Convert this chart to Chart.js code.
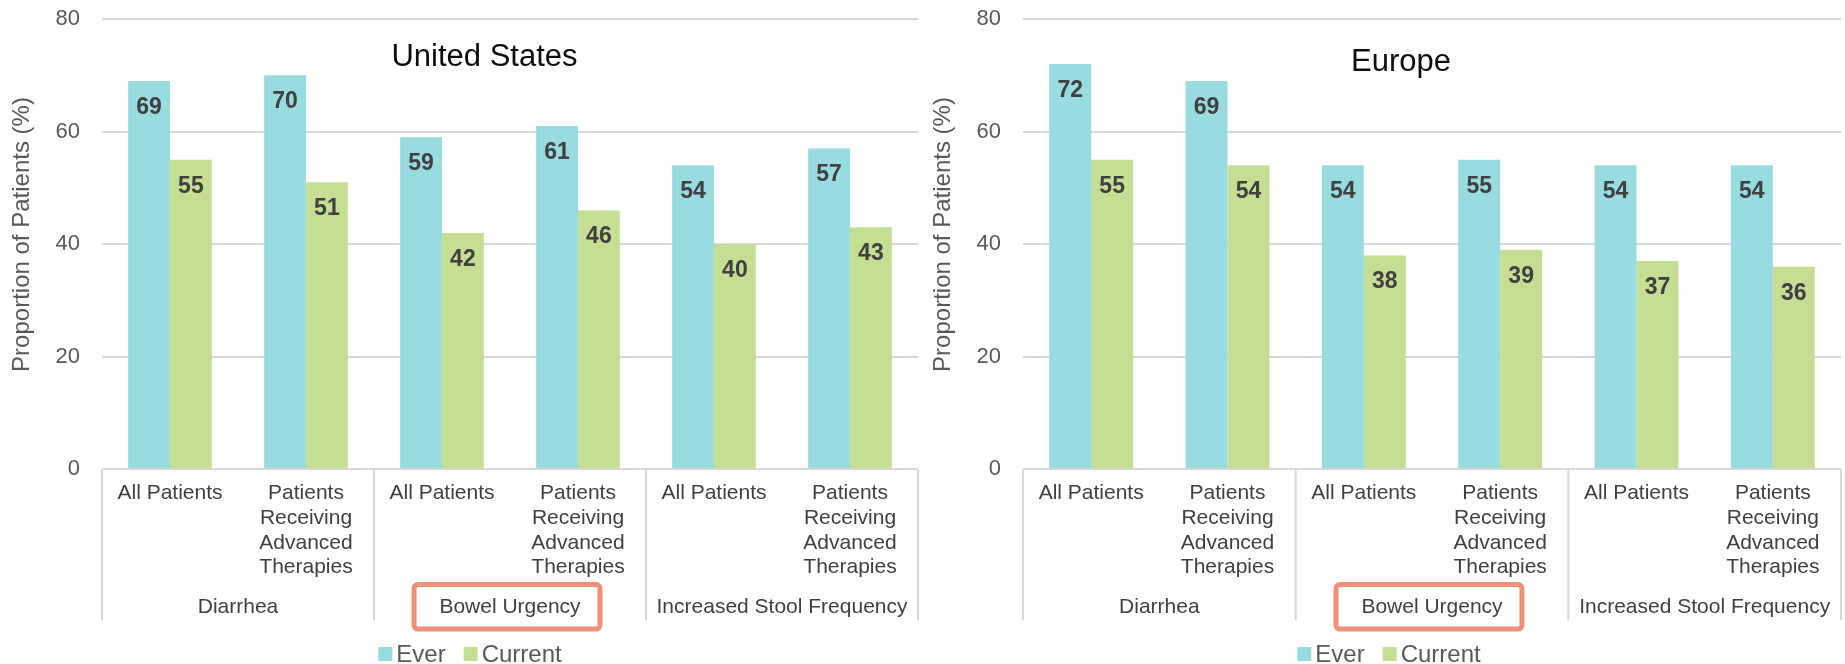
<!DOCTYPE html>
<html>
<head>
<meta charset="utf-8">
<script src="https://cdn.jsdelivr.net/npm/chart.js@4/dist/chart.umd.min.js"></script>
<style>
  html, body { margin: 0; padding: 0; background: #ffffff; }
  #wrap { position: relative; width: 1845px; height: 664px; overflow: hidden; }
  .panel { position: absolute; top: 0; height: 664px; }
</style>
</head>
<body>
<div id="wrap">
  <div class="panel" style="left:0;width:921px"><canvas id="usChart"></canvas></div>
  <div class="panel" style="left:921px;width:924px"><canvas id="euChart"></canvas></div>
</div>
<script>
// ---- data ----
const subgroupLabels = [
  ['All Patients'], ['Patients', 'Receiving', 'Advanced', 'Therapies'],
  ['All Patients'], ['Patients', 'Receiving', 'Advanced', 'Therapies'],
  ['All Patients'], ['Patients', 'Receiving', 'Advanced', 'Therapies']
];
const symptomGroups = ['Diarrhea', 'Bowel Urgency', 'Increased Stool Frequency'];
const highlightedGroup = 'Bowel Urgency';
const seriesNames = ['Ever', 'Current'];
const usEver    = [69, 70, 59, 61, 54, 57];
const usCurrent = [55, 51, 42, 46, 40, 43];
const euEver    = [72, 69, 54, 55, 54, 54];
const euCurrent = [55, 54, 38, 39, 37, 36];
const yTicks = [0, 20, 40, 60, 80];
const yAxisTitle = 'Proportion of Patients (%)';

// ---- styling ----
const FONT = "'Liberation Sans', Arial, Helvetica, sans-serif";
const COLORS = ['#99DCE0', '#C6DE93'];

// Draws the two-level category axis, value labels, legend and titles.
const decorations = {
  id: 'decorations',
  afterDraw(chart, args, opts) {
    const ctx = chart.ctx;
    const area = chart.chartArea;
    const xs = chart.scales.x;
    const step = xs.getPixelForValue(1) - xs.getPixelForValue(0);
    ctx.save();

    // value labels inside bar tops
    ctx.font = `bold 23px ${FONT}`;
    ctx.fillStyle = '#404040';
    ctx.textAlign = 'center';
    ctx.textBaseline = 'alphabetic';
    chart.data.datasets.forEach((ds, d) => {
      chart.getDatasetMeta(d).data.forEach((bar, i) => {
        ctx.fillText(String(ds.data[i]), bar.x, bar.y + 33);
      });
    });

    // subgroup labels
    ctx.font = `21px ${FONT}`;
    ctx.fillStyle = '#404040';
    ctx.textBaseline = 'middle';
    chart.data.labels.forEach((lines, i) => {
      const x = xs.getPixelForValue(i);
      lines.forEach((line, k) => ctx.fillText(line, x, area.bottom + 24 + k * 24.8));
    });

    // group separators and group labels
    const perGroup = chart.data.labels.length / symptomGroups.length;
    ctx.strokeStyle = '#d9d9d9';
    ctx.lineWidth = 2;
    for (let g = 0; g <= symptomGroups.length; g++) {
      const x = xs.getPixelForValue(g * perGroup) - step / 2;
      ctx.beginPath();
      ctx.moveTo(x, area.bottom);
      ctx.lineTo(x, area.bottom + 151);
      ctx.stroke();
    }
    symptomGroups.forEach((name, g) => {
      const cx = xs.getPixelForValue(g * perGroup) - step / 2 + step * perGroup / 2;
      const cy = area.bottom + 137.5;
      ctx.fillStyle = '#404040';
      ctx.fillText(name, cx, cy);
      if (name === highlightedGroup) {
        ctx.strokeStyle = '#F0907A';
        ctx.lineWidth = 5;
        ctx.beginPath();
        ctx.roundRect(cx - 96, cy - 22.3, 186, 44.6, 4);
        ctx.stroke();
      }
    });

    // legend
    ctx.font = `24px ${FONT}`;
    ctx.textAlign = 'left';
    ctx.textBaseline = 'alphabetic';
    const box = 14, gap = 4, between = 18;
    const widths = seriesNames.map(s => ctx.measureText(s).width);
    const total = widths.reduce((s, w) => s + box + gap + w, 0) + between * (seriesNames.length - 1);
    let lx = opts.legendCenter - total / 2;
    const baseY = 662;
    seriesNames.forEach((name, k) => {
      ctx.fillStyle = chart.data.datasets[k].backgroundColor;
      ctx.fillRect(lx, baseY - 15, box, box);
      ctx.fillStyle = '#595959';
      ctx.fillText(name, lx + box + gap, baseY);
      lx += box + gap + widths[k] + between;
    });

    // chart title
    ctx.font = `31px ${FONT}`;
    ctx.fillStyle = '#0d0d0d';
    ctx.textAlign = 'center';
    ctx.fillText(opts.title, opts.titleX, opts.titleBaseline);

    // value axis title
    ctx.translate(opts.yTitleX, opts.yTitleY);
    ctx.rotate(-Math.PI / 2);
    ctx.font = `24px ${FONT}`;
    ctx.fillStyle = '#595959';
    ctx.textBaseline = 'middle';
    ctx.fillText(yAxisTitle, 0, 0);
    ctx.restore();
  }
};

function buildChart(canvasId, ever, current, deco, rightPad) {
  return new Chart(document.getElementById(canvasId), {
    type: 'bar',
    data: {
      labels: subgroupLabels,
      datasets: [
        { label: seriesNames[0], data: ever, backgroundColor: COLORS[0], borderWidth: 0 },
        { label: seriesNames[1], data: current, backgroundColor: COLORS[1], borderWidth: 0 }
      ]
    },
    options: {
      responsive: true,
      maintainAspectRatio: false,
      animation: false,
      layout: { padding: { top: 19, bottom: 194.7, left: 0, right: rightPad } },
      datasets: { bar: { categoryPercentage: 0.615, barPercentage: 1.0 } },
      scales: {
        x: { display: false, offset: true },
        y: {
          min: 0, max: 80,
          afterBuildTicks: s => { s.ticks = yTicks.map(v => ({ value: v })); },
          afterFit: s => { s.width = 102; },
          ticks: { padding: 0, color: '#595959', font: { family: FONT, size: 22 } },
          grid: { color: '#d9d9d9', lineWidth: 2, drawTicks: true, tickLength: 22, tickColor: 'rgba(0,0,0,0)' },
          border: { display: false }
        }
      },
      plugins: {
        legend: { display: false },
        tooltip: { enabled: false },
        decorations: deco
      }
    },
    plugins: [decorations]
  });
}

buildChart('usChart', usEver, usCurrent,
  { title: 'United States', titleX: 484.5, titleBaseline: 66, legendCenter: 470, yTitleX: 22, yTitleY: 234.5 }, 3);
buildChart('euChart', euEver, euCurrent,
  { title: 'Europe', titleX: 480, titleBaseline: 71, legendCenter: 468, yTitleX: 22, yTitleY: 234.5 }, 4);
</script>
</body>
</html>
